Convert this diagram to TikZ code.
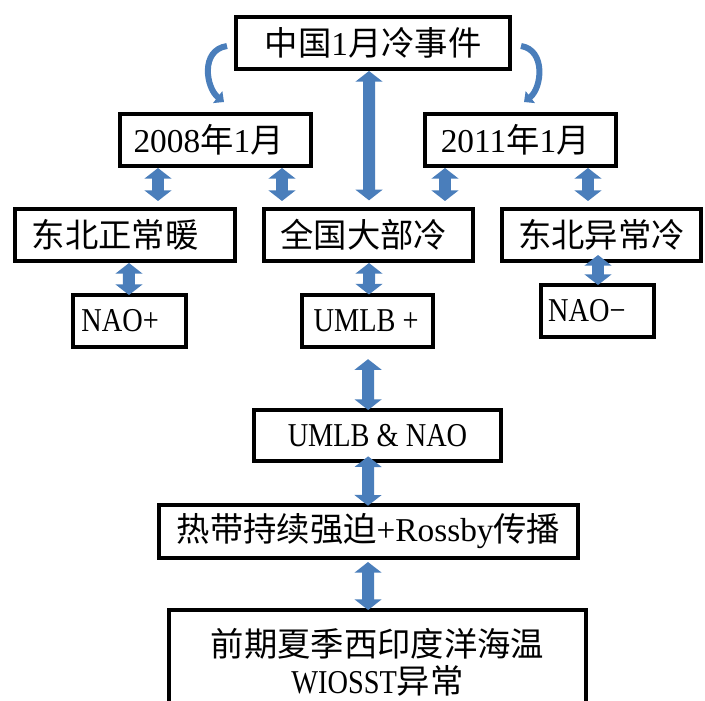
\documentclass[tikz,border=0pt]{standalone}
\usepackage{fontspec}
\setmainfont{Liberation Serif}
\newfontfamily\cjk{Noto Sans CJK SC}
\newfontfamily\nar[FakeStretch=0.85]{Liberation Serif}
\usetikzlibrary{arrows.meta,calc}
\definecolor{ablue}{HTML}{4A7EBB}
\newcommand\CJ[1]{{\cjk #1}}
\newcommand\pad[1]{\hspace*{#1}}
\begin{document}
\begin{tikzpicture}[x=0.75pt,y=-0.75pt,
  box/.style={draw=black,line width=3pt,fill=white,inner sep=0pt,align=center,
    font=\fontsize{25}{28}\selectfont},
  dbl/.style={draw=ablue,line width=9pt,{Triangle[width=20pt,length=8pt]}-{Triangle[width=20pt,length=8pt]}},
  curv/.style={draw=ablue,line width=4.5pt,-{Triangle[width=11pt,length=6pt]}}]
\useasboundingbox (0,0) rectangle (705,700);
\fill[white] (0,0) rectangle (705,700);
% boxes
\node[box,minimum width=205.5pt,minimum height=39pt] (top) at (373,43) {\CJ{中国}1\CJ{月冷事件}};
\node[box,minimum width=143.25pt,minimum height=39pt] (y2008) at (215.5,140) {2008\CJ{年}1\CJ{月}\pad{10.5pt}};
\node[box,minimum width=143.25pt,minimum height=39pt] (y2011) at (520.5,140) {2011\CJ{年}1\CJ{月}\pad{8pt}};
\node[box,minimum width=165pt,minimum height=39pt] (newarm) at (125,235) {\CJ{东北正常暖}\pad{15pt}};
\node[box,minimum width=156.75pt,minimum height=39pt] (allcold) at (368.5,235) {\CJ{全国大部冷}\pad{7pt}};
\node[box,minimum width=149.25pt,minimum height=39pt] (necold) at (601.5,235) {\CJ{东北异常冷}};
\node[box,minimum width=84.75pt,minimum height=39pt] (naop) at (129.5,321) {{\nar NAO+}\pad{14pt}};
\node[box,minimum width=98.25pt,minimum height=39pt] (umlbp) at (367.5,320.5) {{\nar UMLB +}\pad{2pt}};
\node[box,minimum width=84.75pt,minimum height=39pt] (naom) at (597.5,311) {{\nar NAO−}\pad{16pt}};
\node[box,minimum width=185.25pt,minimum height=38.25pt] (umlbnao) at (377.5,435.5) {{\nar UMLB \& NAO}};
\node[box,minimum width=314.25pt,minimum height=39.75pt] (tropic) at (368.5,531.5) {\CJ{热带持续强迫}+Rossby\CJ{传播}};
\node[box,minimum width=312.75pt,minimum height=78pt] (wio) at (377.5,662) {\CJ{前期夏季西印度洋海温}\\{\nar WIOSST}\CJ{异常}};
% curved arrows
\coordinate (cl1) at (227,46);
\coordinate (cl2) at (224,102);
\coordinate (cr1) at (521,46);
\coordinate (cr2) at (524,102);
\draw[curv] (cl1) .. controls (200,50) and (206,88) .. (cl2);
\draw[curv] (cr1) .. controls (546,50) and (542,88) .. (cr2);
% straight double arrows
\draw[dbl] ([xshift=-3pt]top.south) -- ([xshift=0.4pt,yshift=5pt]allcold.north);
\draw[dbl] ([xshift=-43.125pt]y2008.south) -- ([xshift=24.75pt,yshift=4.5pt]newarm.north);
\draw[dbl] ([xshift=49.875pt]y2008.south) -- ([xshift=-64.875pt,yshift=4.5pt]allcold.north);
\draw[dbl] ([xshift=-56.625pt]y2011.south) -- ([xshift=57.375pt,yshift=4.5pt]allcold.north);
\draw[dbl] ([xshift=50.625pt]y2011.south) -- ([xshift=-10.125pt,yshift=4.5pt]necold.north);
\draw[dbl] ([xshift=3pt]newarm.south) -- ([xshift=-0.4pt,yshift=-1.5pt]naop.north);
\draw[dbl] ([xshift=0.4pt]allcold.south) -- ([xshift=1.1pt,yshift=-1.5pt]umlbp.north);
\draw[dbl] ([xshift=-2.6pt,yshift=6pt]necold.south) -- ([xshift=0.4pt,yshift=-1.5pt]naom.north);
\draw[dbl] ([xshift=0.4pt,yshift=-8pt]umlbp.south) -- ([xshift=-7pt,yshift=-1.5pt]umlbnao.north);
\draw[dbl] ([xshift=-7pt,yshift=5pt]umlbnao.south) -- ([xshift=-0.4pt,yshift=-2pt]tropic.north);
\draw[dbl] ([xshift=-0.4pt,yshift=-1.5pt]tropic.south) -- ([xshift=-7pt,yshift=-1.5pt]wio.north);
\end{tikzpicture}
\end{document}
